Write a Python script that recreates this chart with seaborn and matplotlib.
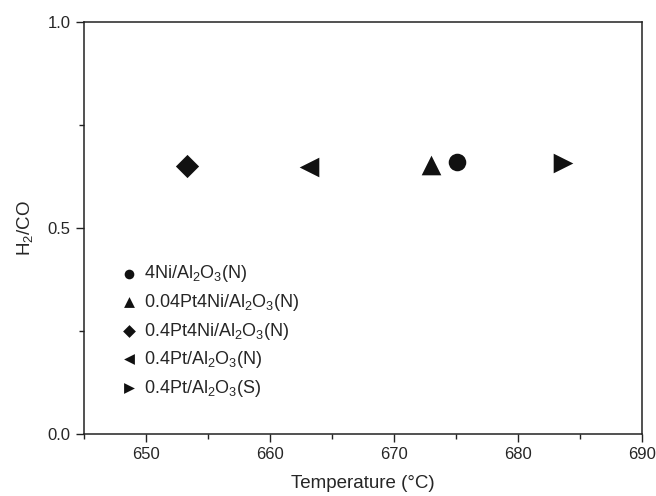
import pandas as pd
import seaborn as sns
import matplotlib.pyplot as plt
from matplotlib.ticker import MultipleLocator, FormatStrFormatter

# dados
amostras = ['4Ni/Al$_2$O$_3$(N)', '0.04Pt4Ni/Al$_2$O$_3$(N)', '0.4Pt4Ni/Al$_2$O$_3$(N)',
            '0.4Pt/Al$_2$O$_3$(N)', '0.4Pt/Al$_2$O$_3$(S)']
temperatura = [675.1, 673.0, 653.3, 663.1, 683.6]
razao_h2_co = [0.660, 0.652, 0.650, 0.649, 0.659]
marcadores = ['o', '^', 'D', '<', '>']
tamanhos = [160, 200, 140, 200, 200]

df = pd.DataFrame({'amostra': amostras, 'temperatura': temperatura, 'razao': razao_h2_co})

sns.set_style('ticks')
plt.rcParams['font.family'] = ['Liberation Sans', 'DejaVu Sans']
plt.rcParams['mathtext.fontset'] = 'custom'
plt.rcParams['mathtext.rm'] = 'Liberation Sans'
plt.rcParams['mathtext.it'] = 'Liberation Sans'
plt.rcParams['mathtext.default'] = 'regular'

fig = plt.figure(figsize=(6.56, 4.96), dpi=100)
ax = fig.add_axes([0.128, 0.125, 0.851, 0.8306])

# um scatter por amostra, cada uma com seu marcador
for i in range(len(amostras)):
    sns.scatterplot(data=df.iloc[[i]], x='temperatura', y='razao', marker=marcadores[i],
                    s=tamanhos[i], color='#111111', linewidth=0, label=amostras[i], ax=ax)

ax.set_xlim(645, 690)
ax.set_ylim(0, 1.0)
ax.xaxis.set_major_locator(MultipleLocator(10))
ax.xaxis.set_minor_locator(MultipleLocator(5))
ax.yaxis.set_major_locator(MultipleLocator(0.5))
ax.yaxis.set_minor_locator(MultipleLocator(0.25))
ax.yaxis.set_major_formatter(FormatStrFormatter('%.1f'))
ax.tick_params(which='major', direction='out', length=6, width=1, labelsize=12, color='#222222')
ax.tick_params(which='minor', direction='out', length=3.5, width=1, color='#222222')
for lado in ax.spines.values():
    lado.set_linewidth(1.1)
    lado.set_color('#222222')

ax.set_xlabel('Temperature (°C)', fontsize=13.5, labelpad=9)
ax.set_ylabel('H$_2$/CO', fontsize=13.5, labelpad=9)

ax.legend(loc='center left', bbox_to_anchor=(0.036, 0.25), frameon=False, fontsize=13,
          markerscale=0.55, handlelength=1.0, handletextpad=0.3, labelspacing=0.42)

plt.savefig('out.png', dpi=100)
